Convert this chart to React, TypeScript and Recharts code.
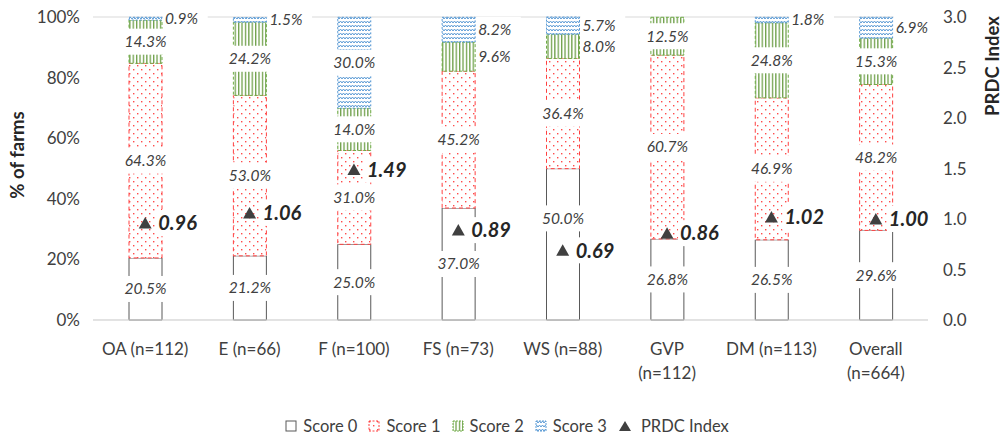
import { ComposedChart, Bar, Line, XAxis, YAxis, CartesianGrid, LabelList } from "recharts";

const categories = ["OA (n=112)", "E (n=66)", "F (n=100)", "FS (n=73)", "WS (n=88)", "GVP\n(n=112)", "DM (n=113)", "Overall\n(n=664)"];
const score0 = [20.5, 21.2, 25.0, 37.0, 50.0, 26.8, 26.5, 29.6];
const score1 = [64.3, 53.0, 31.0, 45.2, 36.4, 60.7, 46.9, 48.2];
const score2 = [14.3, 24.2, 14.0, 9.6, 8.0, 12.5, 24.8, 15.3];
const score3 = [0.9, 1.5, 30.0, 8.2, 5.7, 0, 1.8, 6.9];
const prdcIndex = [0.96, 1.06, 1.49, 0.89, 0.69, 0.86, 1.02, 1.0];
const leftTicks = [0, 20, 40, 60, 80, 100];
const rightTicks = [0, 0.5, 1, 1.5, 2, 2.5, 3];

const series = [score0, score1, score2, score3];

const data = categories.map((name, i) => ({
  name,
  s0: score0[i],
  s1: score1[i],
  s2: score2[i],
  s3: score3[i],
  idx: prdcIndex[i],
}));

const TEXT = "#404040";
const FONT = "Lato, 'Noto Sans', sans-serif";
const LABEL_SIZE = 15.5;

const makeScoreLabel = (s: number) => (props: any) => {
  const { x, y, width, height, value, index } = props;
  if (!value) return null;
  const txt = Number(value).toFixed(1) + "%";
  const tw = txt.length * LABEL_SIZE * 0.56;
  let cx = Number(x) + Number(width) / 2;
  let cy = Number(y) + Number(height) / 2;
  let anchor: "middle" | "start" = "middle";
  if (value < 10) {
    anchor = "start";
    cx = Number(x) + Number(width) + 3;
  } else if (index != null) {
    // move label out of the way of the PRDC marker
    const k = Number(height) / Number(value);
    let below = 0;
    for (let j = 0; j < s; j++) below += series[j][index];
    const markerY = Number(y) + Number(height) - (prdcIndex[index] / 3 * 100 - below) * k;
    if (Math.abs(markerY - cy) < 20) cy = markerY - 32;
  }
  const bx = anchor === "middle" ? cx - tw / 2 - 5 : cx - 2;
  return (
    <g>
      <rect x={bx} y={cy - 13} width={tw + 10} height={26} fill="#fff" />
      <text x={cx} y={cy} dy="0.35em" textAnchor={anchor} fontSize={LABEL_SIZE} fontStyle="italic" fill={TEXT}>
        {txt}
      </text>
    </g>
  );
};

const IndexLabel = (props: any) => {
  const { x, y, value } = props;
  const txt = Number(value).toFixed(2);
  const tw = txt.length * 20 * 0.52;
  const tx = Number(x) + 13;
  return (
    <g>
      <rect x={tx - 2} y={Number(y) - 13} width={tw + 6} height={26} fill="#fff" />
      <text x={tx} y={Number(y)} dy="0.36em" fontSize={20} fontWeight="bold" fontStyle="italic" fill="#262626">
        {txt}
      </text>
    </g>
  );
};

const Triangle = (props: any) => {
  const { cx, cy } = props;
  if (cx == null || cy == null) return null;
  return <polygon points={`${cx - 6.5},${cy + 5.5} ${cx + 6.5},${cy + 5.5} ${cx},${cy - 6}`} fill="#404040" />;
};

const CategoryTick = (props: any) => {
  const { x, y, payload } = props;
  const lines = String(payload.value).split("\n");
  return (
    <g>
      {lines.map((l, i) => (
        <text key={i} x={x} y={y + 33 + i * 24} textAnchor="middle" fontSize={17} fill={TEXT}>
          {l}
        </text>
      ))}
    </g>
  );
};

const Swatch = ({ fill, stroke, dash }: { fill: string; stroke: string; dash?: string }) => (
  <svg width={12} height={12} style={{ marginRight: 6 }}>
    <rect x={1} y={1} width={10} height={10} fill={fill} stroke={stroke} strokeDasharray={dash} />
  </svg>
);

const legendItems = [
  { label: "Score 0", fill: "#fff", stroke: "#595959" },
  { label: "Score 1", fill: "url(#pDots)", stroke: "#FF4040", dash: "2 1.5" },
  { label: "Score 2", fill: "url(#pVert)", stroke: "#70AD47", dash: "2 1" },
  { label: "Score 3", fill: "url(#pZig)", stroke: "#5B9BD5", dash: "2 1" },
];

const App = () => {
  return (
    <div style={{ position: "absolute", left: 0, top: 0, width: 1004, height: 439, background: "#fff", fontFamily: FONT }}>
      <svg width={0} height={0} style={{ position: "absolute" }}>
        <defs>
          <pattern id="pDots" patternUnits="userSpaceOnUse" width={8} height={8}>
            <rect width={8} height={8} fill="#fff" />
            <rect x={1} y={1} width={1.4} height={1.4} fill="#FF4B4B" />
            <rect x={5} y={5} width={1.4} height={1.4} fill="#FF4B4B" />
          </pattern>
          <pattern id="pVert" patternUnits="userSpaceOnUse" width={3.4} height={4}>
            <rect width={3.4} height={4} fill="#fff" />
            <rect x={0} y={0} width={1.3} height={4} fill="#6FA04A" />
          </pattern>
          <pattern id="pZig" patternUnits="userSpaceOnUse" width={6} height={4}>
            <rect width={6} height={4} fill="#fff" />
            <path d="M0,3 L1.5,1 L3,3 L4.5,1 L6,3" stroke="#5B9BD5" strokeWidth={1} fill="none" />
          </pattern>
        </defs>
      </svg>
      <ComposedChart width={1004} height={439} data={data} margin={{ top: 17, right: 0, left: 0, bottom: 59 }}>
        <CartesianGrid vertical={false} stroke="#D9D9D9" />
        <XAxis dataKey="name" height={60} axisLine={{ stroke: "#D9D9D9" }} tickLine={false} tickSize={0} tick={<CategoryTick />} interval={0} />
        <YAxis
          yAxisId="left"
          width={93}
          domain={[0, 100]}
          ticks={leftTicks}
          tickFormatter={(v) => `${v}%`}
          axisLine={false}
          tickLine={false}
          tickSize={0}
          tickMargin={13}
          tick={{ fill: TEXT, fontSize: 17 }}
        />
        <YAxis
          yAxisId="right"
          orientation="right"
          width={76}
          domain={[0, 3]}
          ticks={rightTicks}
          tickFormatter={(v) => Number(v).toFixed(1)}
          axisLine={false}
          tickLine={false}
          tickSize={0}
          tickMargin={15}
          tick={{ fill: TEXT, fontSize: 17, textAnchor: "start" }}
        />
        <Bar yAxisId="left" dataKey="s0" stackId="a" barSize={33} fill="#fff" stroke="#595959" isAnimationActive={false}>
          <LabelList dataKey="s0" content={makeScoreLabel(0)} />
        </Bar>
        <Bar yAxisId="left" dataKey="s1" stackId="a" barSize={33} fill="url(#pDots)" stroke="#FF4040" strokeDasharray="4 3" isAnimationActive={false}>
          <LabelList dataKey="s1" content={makeScoreLabel(1)} />
        </Bar>
        <Bar yAxisId="left" dataKey="s2" stackId="a" barSize={33} fill="url(#pVert)" stroke="#70AD47" strokeDasharray="3 2" isAnimationActive={false}>
          <LabelList dataKey="s2" content={makeScoreLabel(2)} />
        </Bar>
        <Bar yAxisId="left" dataKey="s3" stackId="a" barSize={33} fill="url(#pZig)" stroke="#5B9BD5" strokeDasharray="2 2" isAnimationActive={false}>
          <LabelList dataKey="s3" content={makeScoreLabel(3)} />
        </Bar>
        <Line yAxisId="right" dataKey="idx" stroke="none" dot={<Triangle />} activeDot={false} isAnimationActive={false}>
          <LabelList dataKey="idx" content={<IndexLabel />} />
        </Line>
      </ComposedChart>
      <svg width={1004} height={439} style={{ position: "absolute", left: 0, top: 0, pointerEvents: "none" }}>
        <text x={17} y={155} transform="rotate(-90 17 155)" textAnchor="middle" dominantBaseline="central" fontSize={18.5} fontWeight="bold" fill="#262626">
          % of farms
        </text>
        <text x={992} y={66} transform="rotate(-90 992 66)" textAnchor="middle" dominantBaseline="central" fontSize={18.5} fontWeight="bold" fill="#262626">
          PRDC Index
        </text>
      </svg>
      <div
        style={{
          position: "absolute",
          left: 0,
          top: 416,
          width: 1014,
          display: "flex",
          justifyContent: "center",
          alignItems: "center",
          fontSize: 16.5,
          color: TEXT,
          gap: 11,
        }}
      >
        {legendItems.map((it) => (
          <span key={it.label} style={{ display: "flex", alignItems: "center" }}>
            <Swatch fill={it.fill} stroke={it.stroke} dash={it.dash} />
            {it.label}
          </span>
        ))}
        <span style={{ display: "flex", alignItems: "center" }}>
          <svg width={14} height={12} style={{ marginRight: 9 }}>
            <polygon points="1,11 13,11 7,1" fill="#404040" />
          </svg>
          PRDC Index
        </span>
      </div>
    </div>
  );
};

export default App;
